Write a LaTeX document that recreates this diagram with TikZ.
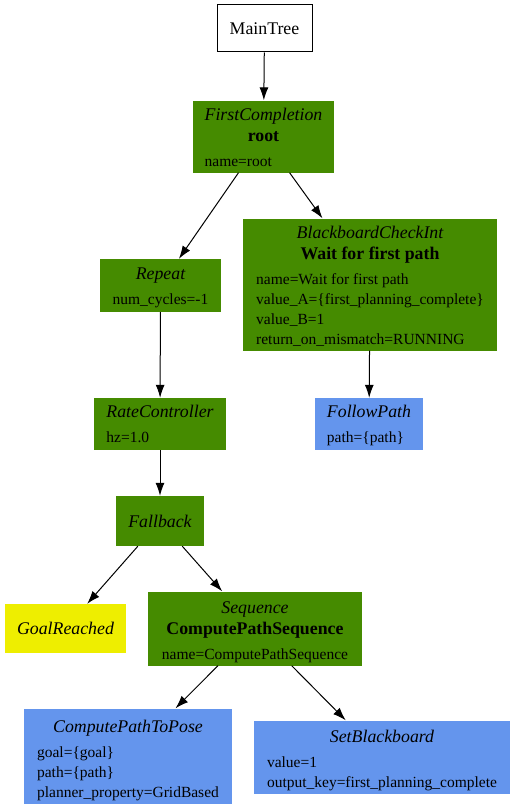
\documentclass[tikz,border=0pt]{standalone}
\usepackage{fontspec}
\setmainfont{Liberation Serif}
\usetikzlibrary{shapes,arrows.meta}
\definecolor{ctrlgreen}{RGB}{69,139,0}
\definecolor{actionblue}{RGB}{100,149,237}
\definecolor{condyellow}{RGB}{238,238,0}
\newcommand{\ttl}[1]{\multicolumn{1}{@{}c@{}}{#1}}
\newcommand{\kind}[1]{{\fontsize{17.8}{20}\selectfont\itshape #1}}
\newcommand{\bname}[1]{{\fontsize{17.8}{20}\selectfont\bfseries #1}}
% first row of a node, with a taller strut to push the text down a little
\newcommand{\hd}[2]{\ttl{\rule{0pt}{#1}\kind{#2}}}
\tikzstyle{btnode} = [rectangle, inner sep=0pt, text=black,
    font=\fontsize{15.5}{20}\selectfont]
\tikzstyle{control} = [btnode, fill=ctrlgreen]
\tikzstyle{action} = [btnode, fill=actionblue]
\tikzstyle{condition} = [btnode, fill=condyellow]
\tikzstyle{treeroot} = [btnode, draw=black, fill=white, line width=1pt,
    font=\fontsize{17.8}{20}\selectfont]
\tikzstyle{line} = [draw, line width=1pt, -{Latex[length=13pt,width=9pt]}]

\begin{document}
\begin{tikzpicture}[x=1pt, y=-1pt]
  \useasboundingbox (0,0) rectangle (515,808);
  \node [treeroot, minimum width=95pt, minimum height=47pt] (main_tree) at (264.5,28.5) {MainTree};
  \node [control, minimum width=141pt, minimum height=71pt] (first_completion) at (263.5,136.5)
    {\begin{tabular}{@{}l@{}}\hd{20pt}{FirstCompletion}\\[1pt] \ttl{\bname{root}}\\[5pt] name=root\end{tabular}};
  \node [control, minimum width=121pt, minimum height=53pt] (repeat) at (160.5,285.5)
    {\begin{tabular}{@{}l@{}}\hd{18pt}{Repeat}\\[5pt] num\_cycles=-1\end{tabular}};
  \node [control, minimum width=254pt, minimum height=131pt] (wait_first_path) at (370,284.5)
    {\begin{tabular}{@{}l@{}}\hd{20pt}{BlackboardCheckInt}\\[1pt] \ttl{\bname{Wait for first path}}\\[5pt]
      name=Wait for first path\\ value\_A=\{first\_planning\_complete\}\\ value\_B=1\\ return\_on\_mismatch=RUNNING\end{tabular}};
  \node [control, minimum width=132pt, minimum height=52pt] (rate_controller) at (160,424)
    {\begin{tabular}{@{}l@{}}\hd{18pt}{RateController}\\[5pt] hz=1.0\end{tabular}};
  \node [action, minimum width=108pt, minimum height=52pt] (follow_path) at (369,424)
    {\begin{tabular}{@{}l@{}}\hd{18pt}{FollowPath}\\[5pt] path=\{path\}\end{tabular}};
  \node [control, minimum width=88pt, minimum height=50pt] (fallback) at (160,521) {\kind{Fallback}};
  \node [condition, minimum width=121pt, minimum height=49pt] (goal_reached) at (65.5,628.5) {\kind{GoalReached}};
  \node [control, minimum width=214pt, minimum height=71pt] (compute_sequence) at (255,628.5)
    {\begin{tabular}{@{}l@{}}\hd{22pt}{Sequence}\\[1pt] \ttl{\bname{ComputePathSequence}}\\[5pt] name=ComputePathSequence\end{tabular}};
  \node [action, minimum width=208pt, minimum height=90pt] (compute_path) at (128,756)
    {\begin{tabular}{@{}l@{}}\hd{24pt}{ComputePathToPose}\\[5pt] goal=\{goal\}\\ path=\{path\}\\ planner\_property=GridBased\end{tabular}};
  \node [action, minimum width=256pt, minimum height=72pt] (set_blackboard) at (382,757)
    {\begin{tabular}{@{}l@{}}\hd{22pt}{SetBlackboard}\\[5pt] value=1\\ output\_key=first\_planning\_complete\end{tabular}};
  \path [line] (main_tree) -- (first_completion);
  \path [line] (first_completion) -- (repeat);
  \path [line] (first_completion) -- (wait_first_path);
  \path [line] (repeat) -- (rate_controller);
  \path [line] (wait_first_path) -- (follow_path);
  \path [line] (rate_controller) -- (fallback);
  \path [line] (fallback) -- (goal_reached);
  \path [line] (fallback) -- (compute_sequence);
  \path [line] (compute_sequence) -- (compute_path);
  \path [line] (compute_sequence) -- (set_blackboard);
\end{tikzpicture}
\end{document}
